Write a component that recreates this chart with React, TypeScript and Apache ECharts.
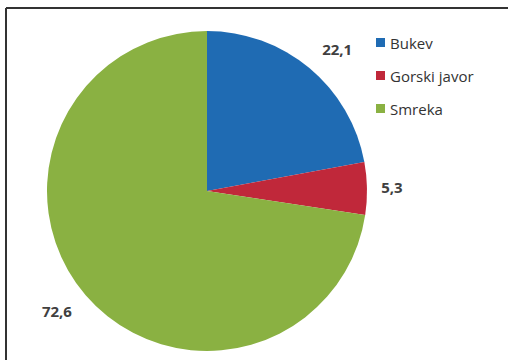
import React, { useEffect, useRef } from "react";
import * as echarts from "echarts";

const categories = ["Bukev", "Gorski javor", "Smreka"];
const values = [22.1, 5.3, 72.6];
const colors = ["#1F6BB3", "#C0283A", "#8AB142"];
const labelOffsets = [[6, 7], [-9, -1], [-3, -6]];

export default function App() {
  const ref = useRef<HTMLDivElement>(null);

  useEffect(() => {
    document.body.style.margin = "0";
    const chart = echarts.init(ref.current!, null, { renderer: "svg" });
    const data = categories.map((name, i) => ({
      name,
      value: values[i],
      itemStyle: { color: colors[i] },
    }));
    chart.setOption({
      animation: false,
      backgroundColor: "#ffffff",
      legend: {
        orient: "vertical",
        left: 371,
        top: 29,
        itemWidth: 9,
        itemHeight: 9,
        itemGap: 16,
        icon: "rect",
        data: categories,
        textStyle: {
          fontFamily: "Open Sans",
          fontSize: 15,
          lineHeight: 17,
          color: "#333333",
        },
        selectedMode: false,
      },
      graphic: [
        {
          type: "line",
          shape: { x1: 6, y1: 8, x2: 508, y2: 8 },
          style: { stroke: "#333333", lineWidth: 2 },
        },
        {
          type: "line",
          shape: { x1: 6, y1: 8, x2: 6, y2: 360 },
          style: { stroke: "#333333", lineWidth: 2 },
        },
      ],
      series: [
        {
          type: "pie",
          center: [207, 191],
          radius: [0, 160],
          startAngle: 90,
          clockwise: true,
          silent: true,
          label: { show: false },
          labelLine: { show: false },
          data,
        },
        {
          type: "pie",
          center: [207, 191],
          radius: [160, 222],
          startAngle: 90,
          clockwise: true,
          silent: true,
          itemStyle: { color: "rgba(0,0,0,0)" },
          label: {
            show: true,
            position: "inside",
            formatter: (p: any) => String(p.value).replace(".", ","),
            fontFamily: "Open Sans",
            fontWeight: "bold",
            fontSize: 15,
            color: "#404040",
          },
          labelLine: { show: false },
          data: categories.map((name, i) => ({
            name,
            value: values[i],
            label: { offset: labelOffsets[i] },
          })),
        },
      ],
    });
    return () => chart.dispose();
  }, []);

  return <div ref={ref} style={{ width: 508, height: 360 }} />;
}
